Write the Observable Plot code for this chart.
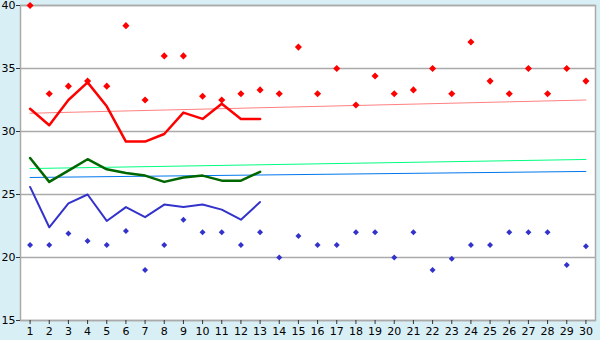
<!DOCTYPE html>
<html>
<head>
<meta charset="utf-8">
<script src="https://cdn.jsdelivr.net/npm/d3@7"></script>
<script src="https://cdn.jsdelivr.net/npm/@observablehq/plot@0.6"></script>
<style>
  html, body { margin: 0; padding: 0; background: #d9eff6; }
  #chart { width: 600px; height: 340px; }
</style>
</head>
<body>
<div id="chart"></div>
<script>
const days = d3.range(1, 31);
const highPoints = [40, 33, 33.6, 34, 33.6, 38.4, 32.5, 36, 36, 32.8, 32.5, 33, 33.3, 33, 36.7, 33, 35, 32.1, 34.4, 33, 33.3, 35, 33, 37.1, 34, 33, 35, 33, 35, 34];
const lowPoints = [21, 21, 21.9, 21.3, 21, 22.1, 19, 21, 23, 22, 22, 21, 22, 20, 21.7, 21, 21, 22, 22, 20, 22, 19, 19.9, 21, 21, 22, 22, 22, 19.4, 20.9];
const lineDays = d3.range(1, 14);
const redLine = [31.8, 30.5, 32.5, 33.9, 32.0, 29.2, 29.2, 29.8, 31.5, 31.0, 32.2, 31.0, 31.0];
const greenLine = [27.9, 26.0, 26.9, 27.8, 27.0, 26.7, 26.5, 26.0, 26.35, 26.5, 26.1, 26.1, 26.8];
const blueLine = [25.6, 22.4, 24.3, 25.0, 22.9, 24.0, 23.2, 24.2, 24.0, 24.2, 23.8, 23.0, 24.4];
const trendDays = [1, 30];
const redTrend = [31.45, 32.5];
const greenTrend = [27.06, 27.78];
const blueTrend = [26.35, 26.83];
const yTicks = [15, 20, 25, 30, 35, 40];

const pts = (xs, ys) => xs.map((x, i) => ({x, y: ys[i]}));

const plot = Plot.plot({
  width: 600,
  height: 340,
  marginLeft: 20,
  marginRight: 5,
  marginTop: 5,
  marginBottom: 20,
  style: {background: "#d9eff6", fontFamily: "DejaVu Sans, sans-serif", fontSize: "11px", color: "#000"},
  x: {domain: [0.5, 30.5]},
  y: {domain: [15, 40]},
  marks: [
    Plot.frame({fill: "white", stroke: "#aaa", strokeWidth: 1.5}),
    Plot.ruleY(yTicks, {stroke: "#aaa", strokeWidth: 1.5}),
    Plot.axisY({ticks: yTicks, tickSize: 4, tickPadding: 1, label: null, fontSize: 11, stroke: "#333"}),
    Plot.axisX({ticks: days, tickSize: 4, tickPadding: 3, label: null, fontSize: 11, tickFormat: d => String(d), stroke: "#333"}),
    Plot.line(pts(trendDays, redTrend), {x: "x", y: "y", stroke: "#ff8080", strokeWidth: 1}),
    Plot.line(pts(trendDays, greenTrend), {x: "x", y: "y", stroke: "#00ff80", strokeWidth: 1}),
    Plot.line(pts(trendDays, blueTrend), {x: "x", y: "y", stroke: "#0077ee", strokeWidth: 1}),
    Plot.line(pts(lineDays, redLine), {x: "x", y: "y", stroke: "#ff0000", strokeWidth: 2.5}),
    Plot.line(pts(lineDays, greenLine), {x: "x", y: "y", stroke: "#006600", strokeWidth: 2.5}),
    Plot.line(pts(lineDays, blueLine), {x: "x", y: "y", stroke: "#3333cc", strokeWidth: 2}),
    Plot.dot(pts(days, highPoints), {x: "x", y: "y", symbol: "diamond2", r: 3.2, fill: "#ff0000", stroke: "none"}),
    Plot.dot(pts(days, lowPoints), {x: "x", y: "y", symbol: "diamond2", r: 2.7, fill: "#3333cc", stroke: "none"})
  ]
});
document.getElementById("chart").appendChild(plot);
</script>
</body>
</html>
